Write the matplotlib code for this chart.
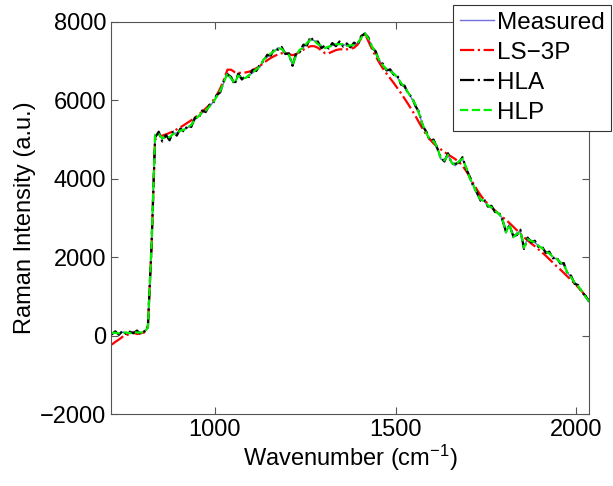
import numpy as np
import matplotlib
matplotlib.use('Agg')
import matplotlib.pyplot as plt

plt.rcParams['font.family'] = ['Liberation Sans', 'DejaVu Sans']
plt.rcParams['mathtext.default'] = 'regular'

# wavenumber grid (cm^-1)
wavenumber = np.arange(715, 2036, 10)

measured = [
    60, 80, 50, 90, 70, 60, 100, 80, 70, 90,
    200, 2300, 5100, 5150, 5020, 5080, 5050, 5150, 5170, 5220,
    5260, 5300, 5380, 5500, 5600, 5680, 5750, 5830, 5950, 6080,
    6250, 6450, 6700, 6550, 6450, 6620, 6580, 6560, 6650, 6700,
    6800, 6850, 7050, 7100, 7200, 7250, 7340, 7300, 7220, 7150,
    6900, 7150, 7280, 7350, 7450, 7550, 7520, 7440, 7380, 7340,
    7360, 7400, 7420, 7440, 7420, 7400, 7390, 7420, 7450, 7600,
    7720, 7560, 7380, 7200, 7030, 6880, 6800, 6740, 6690, 6580,
    6450, 6320, 6200, 6040, 5900, 5650, 5380, 5150, 5010, 4950,
    4820, 4500, 4480, 4600, 4420, 4330, 4450, 4500, 4300, 4000,
    3850, 3600, 3480, 3420, 3330, 3260, 3190, 3100, 3000, 2620,
    2850, 2500, 2620, 2650, 2250, 2480, 2430, 2370, 2300, 2220,
    2150, 2090, 2010, 1950, 1880, 1800, 1620, 1480, 1360, 1250,
    1140, 980, 880,
]

ls3p = [
    -230, -160, -100, -30, 10, 40, 80, 40, 60, 80,
    250, 2200, 5000, 5080, 5100, 5130, 5170, 5210, 5260, 5310,
    5370, 5430, 5490, 5560, 5630, 5710, 5790, 5880, 5990, 6120,
    6300, 6520, 6780, 6780, 6720, 6700, 6700, 6710, 6730, 6770,
    6820, 6880, 6950, 7020, 7080, 7130, 7170, 7200, 7200, 7180,
    7150, 7180, 7230, 7290, 7340, 7380, 7380, 7340, 7270, 7200,
    7200, 7240, 7280, 7300, 7300, 7300, 7310, 7340, 7420, 7580,
    7700, 7500, 7300, 7120, 6960, 6810, 6680, 6560, 6440, 6310,
    6180, 6040, 5900, 5750, 5600, 5430, 5270, 5120, 5000, 4900,
    4820, 4750, 4680, 4620, 4560, 4500, 4430, 4330, 4200, 4050,
    3880, 3720, 3580, 3460, 3360, 3270, 3190, 3110, 3030, 2950,
    2870, 2780, 2690, 2600, 2510, 2430, 2350, 2280, 2200, 2120,
    2040, 1950, 1860, 1770, 1690, 1600, 1510, 1420, 1330, 1230,
    1130, 1010, 900,
]

hla = [
    30, 110, 20, 120, 40, 100, 60, 130, 40, 110,
    180, 2250, 5050, 5200, 4950, 5120, 4980, 5200, 5100, 5280,
    5200, 5360, 5320, 5560, 5540, 5740, 5700, 5880, 5900, 6130,
    6200, 6500, 6660, 6600, 6400, 6680, 6530, 6620, 6600, 6780,
    6750, 6920, 7000, 7160, 7140, 7320, 7290, 7360, 7180, 7200,
    6880, 7200, 7230, 7420, 7400, 7620, 7480, 7500, 7330, 7400,
    7320, 7460, 7380, 7500, 7370, 7450, 7350, 7470, 7420, 7640,
    7700, 7600, 7340, 7250, 6990, 6930, 6760, 6790, 6650, 6630,
    6400, 6370, 6160, 6090, 5850, 5700, 5340, 5200, 4970, 5000,
    4780, 4540, 4440, 4650, 4380, 4380, 4410, 4550, 4260, 4050,
    3800, 3650, 3440, 3470, 3290, 3310, 3150, 3150, 2960, 2660,
    2810, 2550, 2560, 2700, 2210, 2500, 2380, 2420, 2260, 2270,
    2110, 2140, 1970, 2000, 1840, 1850, 1580, 1530, 1320, 1290,
    1100, 1020, 860,
]

hlp = [
    70, 70, 60, 80, 80, 60, 90, 80, 80, 80,
    210, 2280, 5120, 5140, 5030, 5070, 5060, 5140, 5160, 5230,
    5250, 5310, 5370, 5510, 5590, 5690, 5740, 5840, 5940, 6090,
    6240, 6460, 6690, 6560, 6440, 6630, 6570, 6570, 6640, 6710,
    6790, 6860, 7040, 7110, 7190, 7260, 7330, 7310, 7210, 7160,
    6910, 7140, 7290, 7340, 7460, 7540, 7530, 7430, 7390, 7330,
    7370, 7390, 7430, 7430, 7430, 7390, 7400, 7410, 7460, 7590,
    7710, 7570, 7370, 7210, 7020, 6890, 6790, 6750, 6680, 6590,
    6440, 6330, 6190, 6050, 5890, 5660, 5370, 5160, 5000, 4960,
    4810, 4510, 4470, 4610, 4410, 4340, 4440, 4510, 4290, 4010,
    3840, 3610, 3470, 3430, 3320, 3270, 3180, 3110, 2990, 2630,
    2840, 2510, 2590, 2660, 2240, 2460, 2410, 2380, 2290, 2230,
    2140, 2100, 2000, 1960, 1870, 1810, 1610, 1490, 1350, 1260,
    1130, 990, 870,
]

fig = plt.figure(figsize=(6.13, 4.86), dpi=100)
ax = fig.add_axes([0.181, 0.148, 0.78, 0.807])

ax.plot(wavenumber, measured, '-', color='#7070e0', lw=1.0, label='Measured')
ax.plot(wavenumber, ls3p, '-.', color='red', lw=1.6, label='LS\u22123P')
ax.plot(wavenumber, hla, '-.', color='black', lw=1.6, label='HLA')
ax.plot(wavenumber, hlp, '--', color='#00ee00', lw=1.6, label='HLP')

ax.set_xlim(713, 2035)
ax.set_ylim(-2000, 8000)
ax.set_xticks([1000, 1500, 2000])
ax.set_yticks(np.arange(-2000, 8001, 2000))
ax.set_yticklabels(['\u22122000', '0', '2000', '4000', '6000', '8000'])
ax.tick_params(direction='in', top=True, right=True, labelsize=17, length=5, color='#555555')
for s in ax.spines.values():
    s.set_color('#555555')

ax.set_xlabel('Wavenumber (cm$^{-1}$)', fontsize=17, labelpad=1)
ax.set_ylabel('Raman Intensity (a.u.)', fontsize=17, labelpad=3)

leg = ax.legend(loc='upper right', bbox_to_anchor=(0.997, 0.99), bbox_transform=fig.transFigure,
                fontsize=17.5, fancybox=False, framealpha=1, edgecolor='#333333',
                handlelength=1.4, handletextpad=0.1, labelspacing=0.33, borderpad=0.28,
                borderaxespad=0)
leg.get_frame().set_linewidth(0.8)

fig.savefig('out.png', dpi=100)
